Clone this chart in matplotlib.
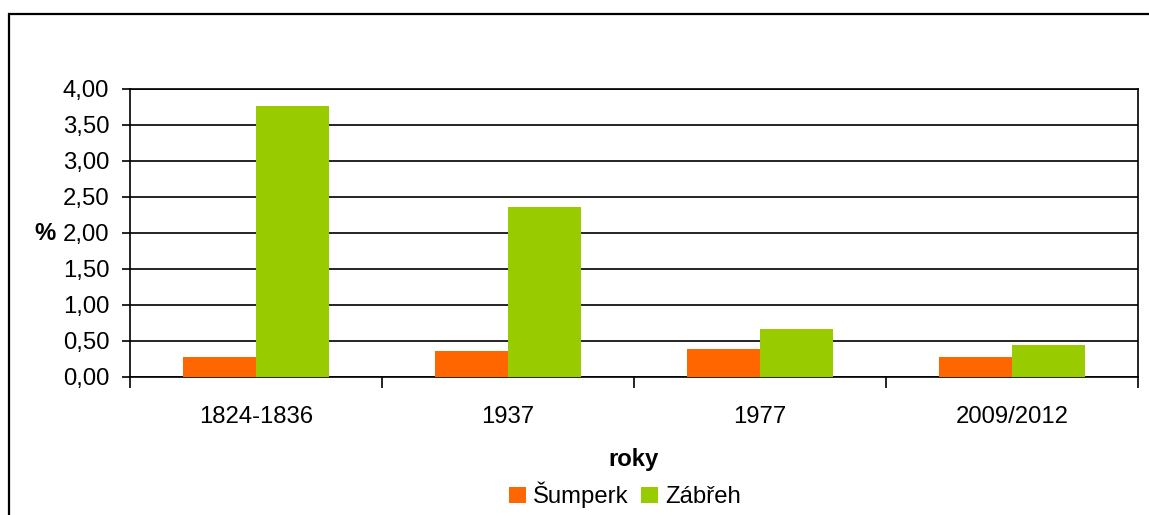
import matplotlib
matplotlib.use("Agg")
import matplotlib.pyplot as plt
import numpy as np
from matplotlib.patches import Rectangle

categories = ["1824-1836", "1937", "1977", "2009/2012"]
sumperk = [0.28, 0.36, 0.39, 0.28]
zabreh = [3.76, 2.36, 0.67, 0.45]
series_names = ["Šumperk", "Zábřeh"]
yticks = [0.0, 0.5, 1.0, 1.5, 2.0, 2.5, 3.0, 3.5, 4.0]

plt.rcParams['font.family'] = ['Liberation Sans', 'DejaVu Sans']
FS = 17.2

fig = plt.figure(figsize=(11.49, 5.15), dpi=100)
W, H = 1149, 515
# outer frame (chart area border)
fig.patches.append(Rectangle((9 / W, -0.2), 1.3, 1 - 14 / H + 0.2, transform=fig.transFigure,
                             fill=False, edgecolor='black', linewidth=1.6, zorder=0))

ax = fig.add_axes([130 / W, 1 - 377 / H, (1138 - 130) / W, (377 - 89) / H])
x = np.arange(len(categories))
w = 0.29
ax.bar(x - w / 2, sumperk, w, color='#FF6600', label=series_names[0], zorder=3)
ax.bar(x + w / 2, zabreh, w, color='#99CC00', label=series_names[1], zorder=3)

ax.set_xlim(-0.5, len(categories) - 0.5)
ax.set_ylim(0, 4.0)
ax.set_yticks(yticks)
ax.set_yticklabels([f"{v:.2f}".replace('.', ',') for v in yticks], fontsize=FS)
ax.yaxis.grid(True, color='black', linewidth=1.2, zorder=0)
ax.set_axisbelow(True)

ax.set_xticks(x)
ax.set_xticklabels(categories, fontsize=FS)
ax.set_xticks(np.arange(-0.5, len(categories)), minor=True)
ax.tick_params(axis='x', which='major', length=0, pad=21)
ax.tick_params(axis='x', which='minor', length=8, width=1.2, direction='out')
ax.tick_params(axis='y', length=6, width=1.2, direction='out', pad=9)

for s in ['left', 'bottom', 'right', 'top']:
    ax.spines[s].set_linewidth(1.2)
    ax.spines[s].set_color('black')

ax.set_ylabel('%', rotation=0, fontsize=FS, fontweight='bold', ha='right', va='center')
ax.yaxis.set_label_coords(-0.074, 0.5)

ax.set_xlabel('roky', fontsize=FS, fontweight='bold', labelpad=14)

leg = fig.legend(loc='center', bbox_to_anchor=(625 / W, 1 - 495 / H), ncol=2, frameon=False,
                 fontsize=FS, handlelength=0.7, handleheight=0.7, handletextpad=0.3,
                 columnspacing=0.5, borderpad=0)

fig.savefig('out.png', dpi=100)
